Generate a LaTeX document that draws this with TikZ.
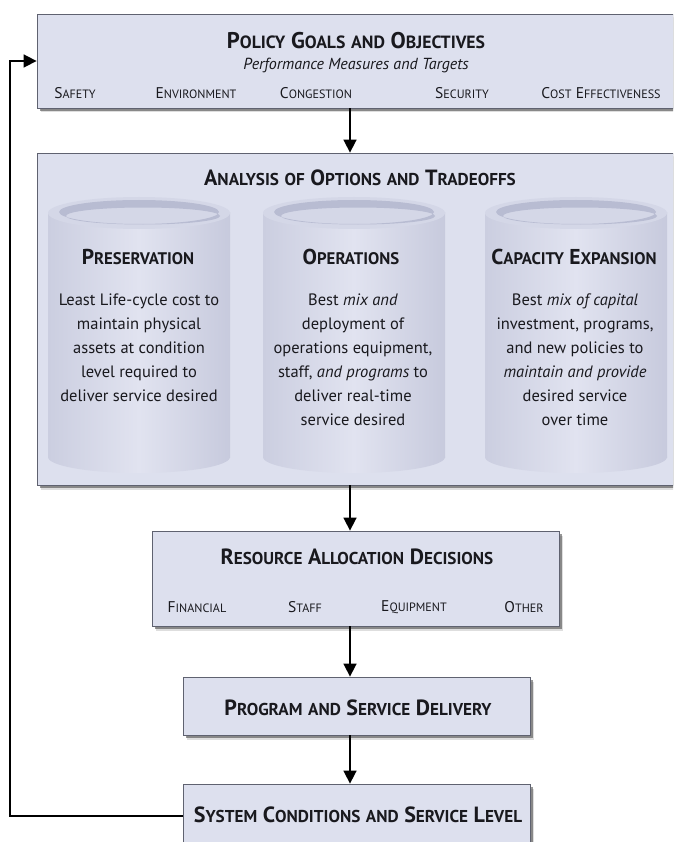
\documentclass[tikz,border=0pt]{standalone}
\usepackage{fontspec}
\usepackage{graphicx}
\setmainfont{PT Sans}
\usetikzlibrary{arrows.meta,shadows}
\definecolor{boxfill}{RGB}{221,224,238}
\definecolor{boxline}{RGB}{95,98,112}
\definecolor{cylL}{RGB}{203,206,224}
\definecolor{cylM}{RGB}{225,227,240}
\definecolor{cylR}{RGB}{199,202,221}
\definecolor{cyltop}{RGB}{212,215,231}
\definecolor{cylin}{RGB}{184,188,210}
\definecolor{txt}{RGB}{25,25,30}
\newcommand\bc[2]{#1\scalebox{0.78}{#2}}
\newcommand\sm[1]{\scalebox{0.78}{#1}}
\tikzset{
  panel/.style={draw=boxline, line width=0.8pt, fill=boxfill, inner sep=0pt,
    drop shadow={shadow xshift=4pt,shadow yshift=-4.5pt,fill=black!25},
    drop shadow={shadow xshift=2.5pt,shadow yshift=-3pt,fill=black!80}},
  head/.style={font=\bfseries\fontsize{22}{24}\selectfont, text=txt, inner sep=0pt},
  cyltitle/.style={font=\bfseries\fontsize{21.5}{24}\selectfont, text=txt, inner sep=0pt},
  item/.style={font=\fontsize{15.5}{17}\selectfont, text=txt, inner sep=0pt},
  sub/.style={font=\itshape\fontsize{16}{18}\selectfont, text=txt, inner sep=0pt},
  body/.style={font=\fontsize{16.5}{24}\selectfont, text=txt, align=center, inner sep=0pt},
  arr/.style={draw=black, line width=1.6pt, -{Triangle[length=13pt,width=13pt]}},
  cylpic/.pic={
    \shade[left color=cylL, right color=cylR, middle color=cylM] (-91,0) rectangle (91,244);
    \shade[left color=cylL, right color=cylR, middle color=cylM] (0,244) ellipse[x radius=91pt, y radius=16pt];
    \fill[cyltop] (0,0) ellipse[x radius=91pt, y radius=16pt];
    \fill[cylin, even odd rule] (0,-1) ellipse[x radius=80pt, y radius=12pt] (4,3) ellipse[x radius=77pt, y radius=8.5pt];
  }
}
\begin{document}
\begin{tikzpicture}[x=1pt,y=-1pt]
\useasboundingbox (0,0) rectangle (673,842);
\clip (0,0) rectangle (673,842);
\fill[white] (0,0) rectangle (673,842);

% panels
\node[panel, minimum width=636pt, minimum height=94pt] (policy) at (355,61) {};
\node[panel, minimum width=636pt, minimum height=332pt] (analysis) at (355,319) {};
\node[panel, minimum width=407pt, minimum height=95pt] (resource) at (355.5,578.5) {};
\node[panel, minimum width=347pt, minimum height=58pt] (program) at (356.5,706) {};
\node[panel, minimum width=347pt, minimum height=64pt] (system) at (356.5,816) {};

% policy texts
\node[head, font=\bfseries\fontsize{22.7}{24}\selectfont] (t1) at (356,41) {\bc{P}{OLICY} \bc{G}{OALS} \sm{AND} \bc{O}{BJECTIVES}};
\node[sub] (s1) at (356,66) {Performance Measures and Targets};
\node[item] (i1) at (75,93) {\bc{S}{AFETY}};
\node[item] (i2) at (196,93) {\bc{E}{NVIRONMENT}};
\node[item] (i3) at (316,93) {\bc{C}{ONGESTION}};
\node[item] (i4) at (462,93) {\bc{S}{ECURITY}};
\node[item] (i5) at (601,93) {\bc{C}{OST} \bc{E}{FFECTIVENESS}};

% analysis
\node[head] (t2) at (360,178) {\bc{A}{NALYSIS} \sm{OF} \bc{O}{PTIONS} \sm{AND} \bc{T}{RADEOFFS}};
\pic at (139,213) {cylpic};
\pic at (354,213) {cylpic};
\pic at (576,213) {cylpic};
\node[cyltitle] (c1) at (138,257) {\bc{P}{RESERVATION}};
\node[cyltitle] (c2) at (351,257) {\bc{O}{PERATIONS}};
\node[cyltitle] (c3) at (574,257) {\bc{C}{APACITY} \bc{E}{XPANSION}};
\node[body] (b1) at (139,348) {Least Life-cycle cost to\\maintain physical\\assets at condition\\level required to\\deliver service desired};
\node[body] (b2) at (353,360) {Best \textit{mix and}\\deployment of\\operations equipment,\\staff, \textit{and programs} to\\deliver real-time\\service desired};
\node[body] (b3) at (575,360) {Best \textit{mix of capital}\\investment, programs,\\and new policies to\\\textit{maintain and provide}\\desired service\\over time};

% resource
\node[head] (t3) at (357,557) {\bc{R}{ESOURCE} \bc{A}{LLOCATION} \bc{D}{ECISIONS}};
\node[item] (r1) at (197,607) {\bc{F}{INANCIAL}};
\node[item] (r2) at (305,607) {\bc{S}{TAFF}};
\node[item] (r3) at (414,607) {\bc{E}{QUIPMENT}};
\node[item] (r4) at (524,607) {\bc{O}{THER}};

% program, system
\node[head] (t4) at (358,708) {\bc{P}{ROGRAM} \sm{AND} \bc{S}{ERVICE} \bc{D}{ELIVERY}};
\node[head] (t5) at (358,815) {\bc{S}{YSTEM} \bc{C}{ONDITIONS} \sm{AND} \bc{S}{ERVICE} \bc{L}{EVEL}};

% connectors
\coordinate (ax) at (350,0);
\coordinate (fb) at (10,0);
\draw[arr] (policy.south -| ax) -- (analysis.north -| ax);
\draw[arr] (analysis.south -| ax) -- (resource.north -| ax);
\draw[arr] (resource.south -| ax) -- (program.north -| ax);
\draw[arr] (program.south -| ax) -- (system.north -| ax);
\draw[arr] (system.west) -- (system.west -| fb) -- (policy.west -| fb) -- (policy.west);
\end{tikzpicture}
\end{document}
